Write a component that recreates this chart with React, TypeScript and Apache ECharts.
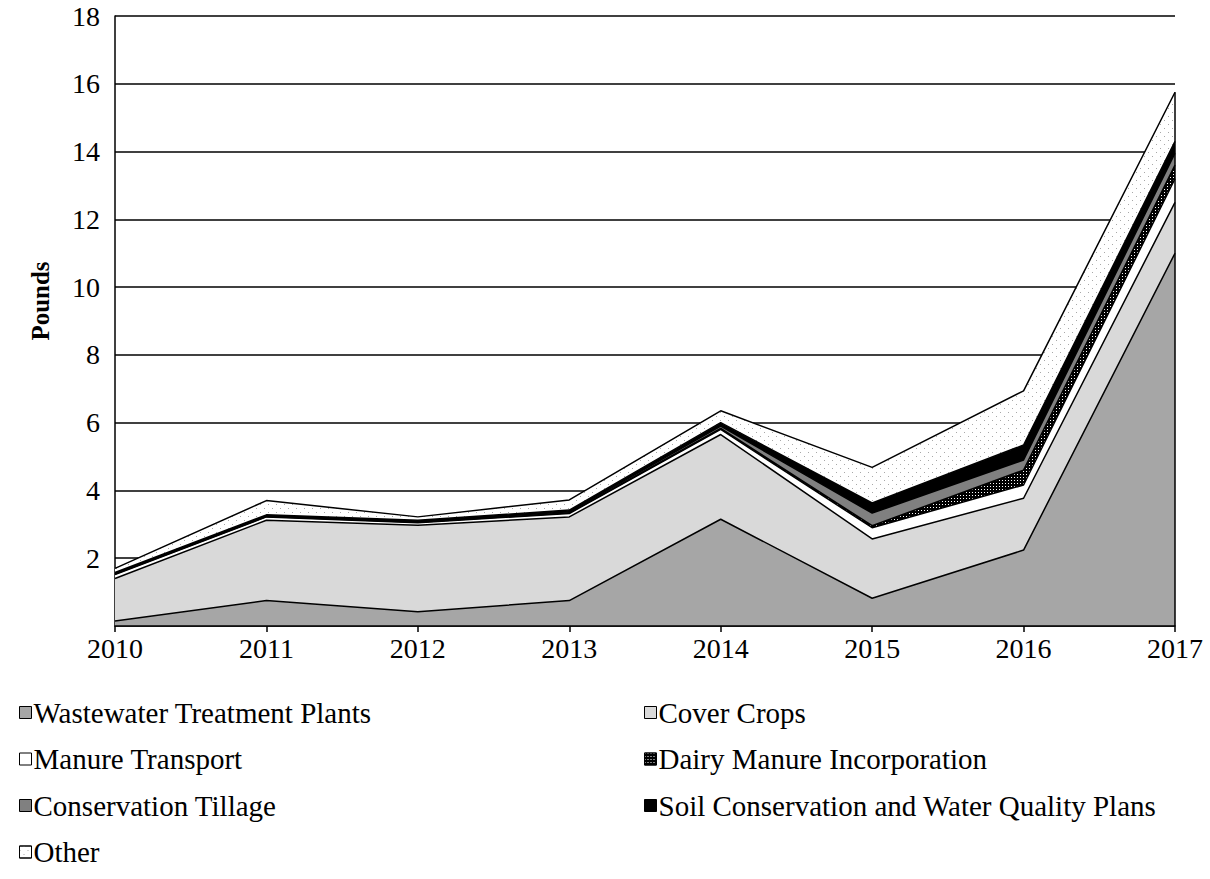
import React, { useEffect, useRef } from "react";
import * as echarts from "echarts";

const years = ["2010", "2011", "2012", "2013", "2014", "2015", "2016", "2017"];
const wastewater = [0.15, 0.75, 0.42, 0.75, 3.15, 0.82, 2.24, 11.0];
const coverCrops = [1.25, 2.37, 2.55, 2.47, 2.5, 1.75, 1.53, 1.5];
const manureTransport = [0.12, 0.1, 0.08, 0.1, 0.15, 0.33, 0.39, 0.7];
const dairyManure = [0.01, 0.01, 0.01, 0.02, 0.03, 0.06, 0.44, 0.4];
const conservationTillage = [0.02, 0.02, 0.02, 0.03, 0.07, 0.37, 0.3, 0.35];
const soilConservation = [0.03, 0.03, 0.04, 0.05, 0.1, 0.3, 0.44, 0.35];
const other = [0.12, 0.42, 0.1, 0.3, 0.35, 1.05, 1.6, 1.45];

const seriesNames = [
  "Wastewater Treatment Plants",
  "Cover Crops",
  "Manure Transport",
  "Dairy Manure Incorporation",
  "Conservation Tillage",
  "Soil Conservation and Water Quality Plans",
  "Other",
];
const yAxisTitle = "Pounds";

const FONT = "'Liberation Serif', 'Times New Roman', serif";

export default function App() {
  const ref = useRef<HTMLDivElement>(null);
  useEffect(() => {
    document.body.style.margin = "0";
    const chart = echarts.init(ref.current!, null, { renderer: "svg" });
    const data = [wastewater, coverCrops, manureTransport, dairyManure, conservationTillage, soilConservation, other];
    const fills = ["#a6a6a6", "#d9d9d9", "#ffffff", "#000000", "#808080", "#000000", "#ffffff"];
    const decals: any[] = [
      null,
      null,
      null,
      { symbol: "rect", symbolSize: 1, color: "#ffffff", dashArrayX: [1, 2], dashArrayY: [1, 2] },
      null,
      null,
      { symbol: "rect", symbolSize: 1, color: "#a8a8a8", dashArrayX: [[1, 7], [0, 4, 1, 3]], dashArrayY: [1, 3] },
    ];
    const lastIdx = years.length - 1;
    const total = data.reduce((s, arr) => s + arr[lastIdx], 0);
    const series = data.map((arr, i) => ({
      name: seriesNames[i],
      type: "line",
      stack: "total",
      data: arr,
      symbol: "none",
      showSymbol: false,
      lineStyle: { color: "#000", width: 1.5 },
      itemStyle: { color: fills[i], ...(decals[i] ? { decal: decals[i] } : {}) },
      areaStyle: { color: fills[i], opacity: 1 },
      emphasis: { disabled: true },
      z: 3,
      ...(i === data.length - 1
        ? {
            markLine: {
              symbol: "none",
              silent: true,
              label: { show: false },
              lineStyle: { color: "#000", width: 1.5, type: "solid" },
              data: [[{ coord: [years[lastIdx], 0] }, { coord: [years[lastIdx], total] }]],
            },
          }
        : {}),
    }));
    const legendCommon = {
      orient: "vertical",
      icon: "rect",
      itemWidth: 12,
      itemHeight: 12,
      itemGap: 17.5,
      selectedMode: false,
      itemStyle: { borderColor: "#000", borderWidth: 1 },
      textStyle: { fontFamily: FONT, fontSize: 29, color: "#000", lineHeight: 29, padding: [0, 0, 0, -3] },
    };
    chart.setOption({
      animation: false,
      grid: { left: 115, right: 35, top: 16, bottom: 253 },
      legend: [
        { ...legendCommon, left: 14, top: 693, data: [seriesNames[0], seriesNames[2], seriesNames[4], seriesNames[6]] },
        { ...legendCommon, left: 639, top: 693, data: [seriesNames[1], seriesNames[3], seriesNames[5]] },
      ],
      graphic: [
        {
          type: "text",
          x: 40,
          y: 301,
          rotation: Math.PI / 2,
          style: {
            text: yAxisTitle,
            fontFamily: FONT,
            fontSize: 25,
            fontWeight: "bold",
            fill: "#000",
            align: "center",
            verticalAlign: "middle",
          },
        },
      ],
      xAxis: {
        type: "category",
        data: years,
        boundaryGap: false,
        axisLine: { lineStyle: { color: "#000", width: 1.5 } },
        axisTick: { show: true, length: 6, lineStyle: { color: "#000", width: 1.5 } },
        axisLabel: { fontFamily: FONT, fontSize: 28, color: "#000", margin: 8 },
        splitLine: { show: false },
        z: 10,
      },
      yAxis: {
        type: "value",
        min: 0,
        max: 18,
        interval: 2,
        axisLine: { show: true, lineStyle: { color: "#000", width: 1.5 } },
        axisTick: { show: false },
        axisLabel: {
          fontFamily: FONT,
          fontSize: 28,
          color: "#000",
          margin: 15,
          formatter: (v: number) => (v === 0 ? "" : String(v)),
        },
        splitLine: { show: true, lineStyle: { color: "#000", width: 1.5 } },
      },
      series,
    });
    return () => chart.dispose();
  }, []);
  return <div ref={ref} style={{ position: "absolute", left: 0, top: 0, width: 1210, height: 879 }} />;
}
